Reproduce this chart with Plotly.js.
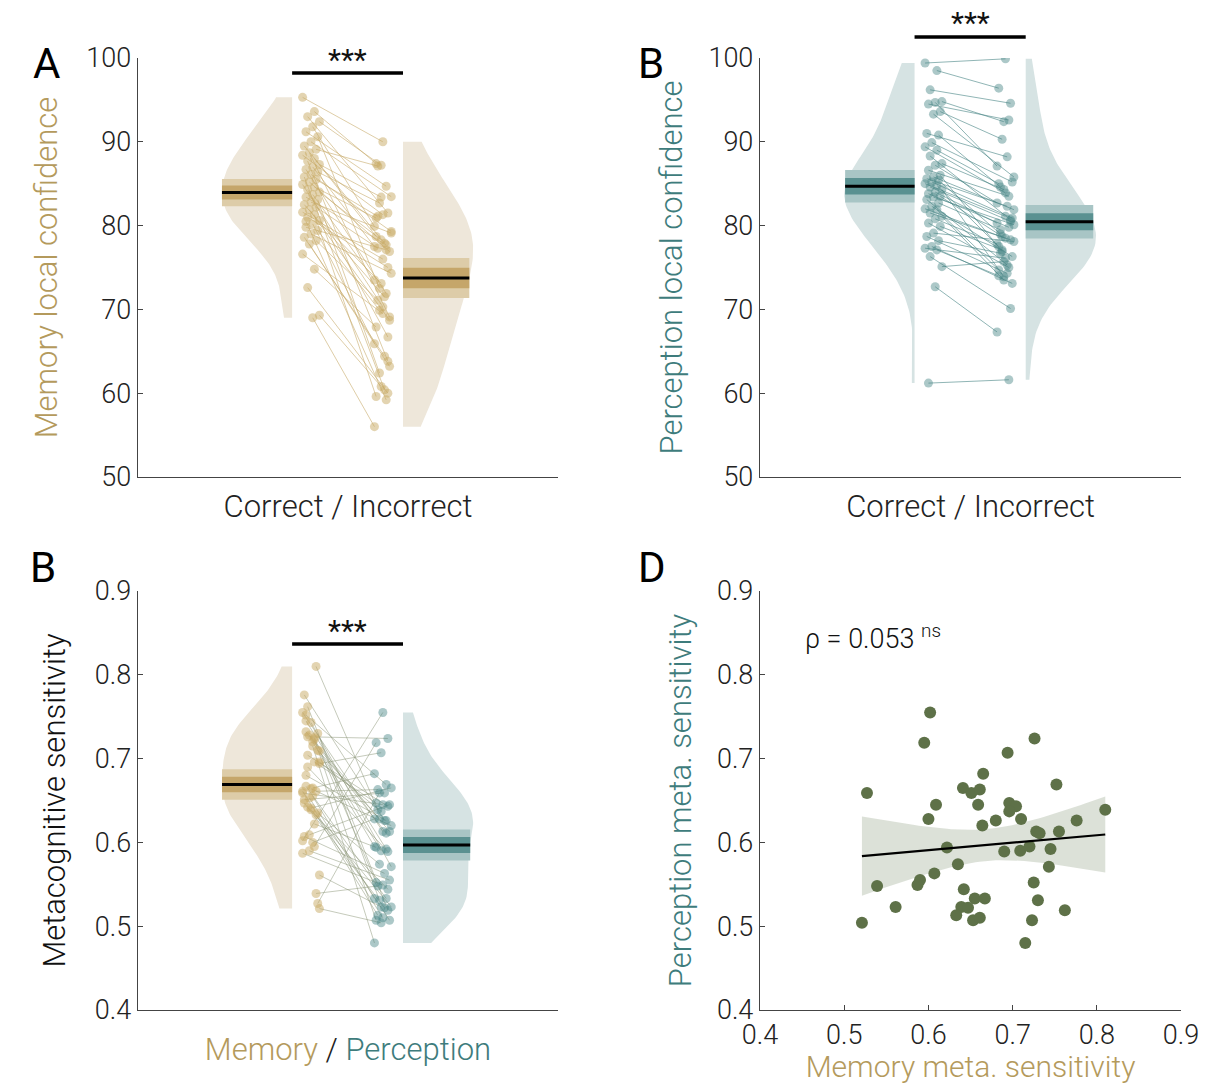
<!DOCTYPE html>
<html><head><meta charset="utf-8">
<script src="https://cdn.plot.ly/plotly-3.0.1.min.js"></script>
<style>html,body{margin:0;padding:0;background:#fff}</style>
</head><body>
<div id="chart" style="width:1207px;height:1084px"></div>
<script>
// ---------------- DATA ----------------
const memCorrect = [95.3,93.6,93.0,92.4,91.8,91.2,90.6,90.0,89.5,89.1,
  88.7,88.4,88.0,87.7,87.3,87.0,86.7,86.4,86.1,85.8,
  85.5,85.2,84.9,84.6,84.3,84.0,83.7,83.4,83.1,82.8,
  82.5,82.2,81.9,81.6,81.3,81.0,80.6,80.2,79.8,79.4,
  79.0,78.6,78.2,77.8,76.6,74.8,72.6,69.3,69.0,80.5];
const memIncorrect = [90.0,87.4,81.5,87.2,79.9,84.7,72.5,83.45,77.9,87.1,
  69.1,81.3,78.7,63.8,83.4,77.5,71.9,82.7,79.3,60.4,
  81.1,76.9,70.3,80.9,66.7,78.3,73.5,77.7,62.4,79.1,
  71.5,77.3,68.7,76.0,59.6,75.0,73.1,65.9,77.1,69.9,
  74.3,64.4,71.1,63.2,69.5,67.9,60.0,60.8,56.0,59.2];
const perCorrect = [99.4,98.5,96.2,94.8,94.7,94.5,93.6,93.3,91.0,90.8,
  89.9,89.4,89.0,88.3,87.4,87.2,86.6,86.0,85.8,85.6,
  85.4,85.2,85.0,84.8,84.6,84.3,84.0,83.8,83.5,83.4,
  83.1,82.7,82.3,82.0,81.9,81.5,81.1,80.8,80.3,79.9,
  79.1,78.7,78.2,77.5,77.3,77.1,76.3,75.1,72.7,61.2];
const perIncorrect = [99.9,96.4,94.6,92.4,87.1,92.6,90.3,85.8,88.2,84.6,
  85.2,83.9,85.0,80.7,84.3,82.7,83.5,76.9,81.9,82.3,
  79.0,80.9,81.1,77.5,80.5,73.9,80.3,79.8,78.7,80.1,
  75.3,79.5,76.3,78.5,74.7,78.3,73.5,77.8,75.0,77.1,
  78.1,74.3,76.7,73.1,76.1,74.0,70.1,75.7,67.3,61.6];
const metaMemory = [0.602,0.595,0.726,0.694,0.665,0.752,0.527,0.641,0.651,0.661,
  0.609,0.659,0.696,0.704,0.696,0.600,0.680,0.710,0.664,0.776,
  0.810,0.728,0.755,0.622,0.690,0.709,0.720,0.745,0.635,0.743,
  0.607,0.539,0.590,0.587,0.725,0.642,0.561,0.655,0.667,0.730,
  0.639,0.647,0.633,0.653,0.661,0.723,0.762,0.521,0.715,0.732];
const metaPerception = [0.755,0.719,0.724,0.707,0.682,0.669,0.659,0.665,0.659,0.663,
  0.645,0.645,0.647,0.643,0.637,0.628,0.626,0.628,0.620,0.626,
  0.639,0.613,0.613,0.594,0.589,0.590,0.595,0.592,0.574,0.571,
  0.563,0.548,0.555,0.549,0.552,0.544,0.523,0.533,0.533,0.531,
  0.523,0.522,0.513,0.507,0.510,0.507,0.519,0.504,0.480,0.611];
const confTicks = [50,60,70,80,90,100];
const metaTicks = [0.4,0.5,0.6,0.7,0.8,0.9];
const panelLetters = ['A','B','B','D'];
const rhoLabel = 'ρ = 0.053 <sup>ns</sup>';
const sigLabel = '***';

// ---------------- STYLE / GEOMETRY ----------------
const FONT = 'Roboto, "Liberation Sans", Arial, sans-serif';
const GOLD_TXT = '#B49A5C', TEAL_TXT = '#3E7C7C';
const GEO = {leftEdge:0.367, rightEdge:0.631, leftPts:0.412, rightPts:0.583, vW:0.167, jit:0.02};
const MEM = {fill:'#EEE7DA', outer:'#DDCCA8', inner:'#C5A66A', pt:'rgba(200,170,100,0.5)', ln:'rgba(200,172,108,0.6)'};
const PER = {fill:'#D6E3E3', outer:'#A8C5C5', inner:'#5A9191', pt:'rgba(70,132,132,0.45)', ln:'rgba(70,132,132,0.6)'};

const mean = a => a.reduce((s,v)=>s+v,0)/a.length;
const sd = a => {const m=mean(a); return Math.sqrt(a.reduce((s,v)=>s+(v-m)*(v-m),0)/(a.length-1));};
function kde(a, y){const h=1.15*sd(a)*Math.pow(a.length,-0.2); return a.reduce((s,v)=>s+Math.exp(-0.5*((y-v)/h)**2),0);}
const jitter = (i,k) => ((((i*7+k*5)%11)/10)-0.5)*2*GEO.jit;

function halfViolin(a, edge, dir, col, xa, ya){
  const lo=Math.min(...a), hi=Math.max(...a), N=120;
  const ys=[], ds=[];
  for(let j=0;j<=N;j++){const y=lo+(hi-lo)*j/N; ys.push(y); ds.push(kde(a,y));}
  const dmax=Math.max(...ds);
  const px=[edge], py=[lo];
  ys.forEach((y,j)=>{px.push(edge+dir*GEO.vW*ds[j]/dmax); py.push(y);});
  px.push(edge); py.push(hi);
  const m=mean(a), se=sd(a)/Math.sqrt(a.length);
  const wm=GEO.vW*kde(a,m)/dmax, e2=edge+dir*wm;
  const rect=(h,c)=>({type:'scatter',mode:'lines',x:[edge,e2,e2,edge,edge],y:[m-h,m-h,m+h,m+h,m-h],
      fill:'toself',fillcolor:c,line:{width:0},xaxis:xa,yaxis:ya,hoverinfo:'skip',showlegend:false});
  return [
    {type:'scatter',mode:'lines',x:px,y:py,fill:'toself',fillcolor:col.fill,line:{width:0},xaxis:xa,yaxis:ya,hoverinfo:'skip',showlegend:false},
    rect(1.96*se,col.outer), rect(se,col.inner),
    {type:'scatter',mode:'lines',x:[edge,e2],y:[m,m],line:{color:'#000',width:3},xaxis:xa,yaxis:ya,showlegend:false}
  ];
}
function paired(a, b, colA, colB, lineCol, xa, ya){
  const lx=[], ly=[];
  a.forEach((v,i)=>{lx.push(GEO.leftPts+jitter(i,0), GEO.rightPts+jitter(i,1), null); ly.push(v,b[i],null);});
  return [
    {type:'scatter',mode:'lines',x:lx,y:ly,line:{color:lineCol,width:1},xaxis:xa,yaxis:ya,showlegend:false,hoverinfo:'skip'},
    {type:'scatter',mode:'markers',x:a.map((v,i)=>GEO.leftPts+jitter(i,0)),y:a,marker:{color:colA,size:9},xaxis:xa,yaxis:ya,showlegend:false},
    {type:'scatter',mode:'markers',x:b.map((v,i)=>GEO.rightPts+jitter(i,1)),y:b,marker:{color:colB,size:9},xaxis:xa,yaxis:ya,showlegend:false}
  ];
}

let traces = [];
// Panel A
traces = traces.concat(halfViolin(memCorrect, GEO.leftEdge, -1, MEM, 'x','y'));
traces = traces.concat(halfViolin(memIncorrect, GEO.rightEdge, 1, MEM, 'x','y'));
traces = traces.concat(paired(memCorrect, memIncorrect, MEM.pt, MEM.pt, MEM.ln, 'x','y'));
// Panel B
traces = traces.concat(halfViolin(perCorrect, GEO.leftEdge, -1, PER, 'x2','y2'));
traces = traces.concat(halfViolin(perIncorrect, GEO.rightEdge, 1, PER, 'x2','y2'));
traces = traces.concat(paired(perCorrect, perIncorrect, PER.pt, PER.pt, PER.ln, 'x2','y2'));
// Panel C
traces = traces.concat(halfViolin(metaMemory, GEO.leftEdge, -1, MEM, 'x3','y3'));
traces = traces.concat(halfViolin(metaPerception, GEO.rightEdge, 1, PER, 'x3','y3'));
traces = traces.concat(paired(metaMemory, metaPerception, MEM.pt, PER.pt, 'rgba(140,150,120,0.5)', 'x3','y3'));
// Panel D regression
(function(){
  const n=metaMemory.length, mx=mean(metaMemory), my=mean(metaPerception);
  let sxx=0, sxy=0; metaMemory.forEach((x,i)=>{sxx+=(x-mx)**2; sxy+=(x-mx)*(metaPerception[i]-my);});
  const b=sxy/sxx, a0=my-b*mx;
  let sse=0; metaMemory.forEach((x,i)=>{sse+=(metaPerception[i]-a0-b*x)**2;});
  const s=Math.sqrt(sse/(n-2)), t=2.011;
  const lo=Math.min(...metaMemory), hi=Math.max(...metaMemory), N=60;
  const xs=[], up=[], dn=[];
  for(let j=0;j<=N;j++){const x=lo+(hi-lo)*j/N; const yh=a0+b*x; const w=t*s*Math.sqrt(1/n+(x-mx)**2/sxx); xs.push(x); up.push(yh+w); dn.push(yh-w);}
  traces.push({type:'scatter',mode:'lines',x:xs.concat(xs.slice().reverse()),y:up.concat(dn.slice().reverse()),fill:'toself',fillcolor:'rgba(205,212,200,0.7)',line:{width:0},xaxis:'x4',yaxis:'y4',showlegend:false,hoverinfo:'skip'});
  traces.push({type:'scatter',mode:'markers',x:metaMemory,y:metaPerception,marker:{color:'#5E7148',size:12},xaxis:'x4',yaxis:'y4',showlegend:false});
  traces.push({type:'scatter',mode:'lines',x:[lo,hi],y:[a0+b*lo,a0+b*hi],line:{color:'#000',width:2.2},xaxis:'x4',yaxis:'y4',showlegend:false});
})();

// ---------------- LAYOUT ----------------
const DL=[0.1143,0.4623], DR=[0.6297,0.9785], DT=[0.5600,0.9465], DB=[0.0683,0.4548];
const tickFont={family:FONT,size:27,color:'#222',weight:300};
const TSZ = 31;
const baseX = (dom, anchor, title, so) => ({domain:dom, anchor:anchor, range:[0,1], showline:true, linecolor:'#444', linewidth:1.3,
  showticklabels:false, ticks:'', showgrid:false, zeroline:false, fixedrange:true,
  title:{text:title, font:{family:FONT,size:TSZ,color:'#222',weight:300}, standoff:so}});
const baseY = (dom, anchor, rng, tv, title, col, so) => ({domain:dom, anchor:anchor, range:rng, tickvals:tv, showline:true, linecolor:'#444', linewidth:1.3,
  ticks:'inside', ticklen:5, tickcolor:'#444', showgrid:false, zeroline:false, tickfont:tickFont, fixedrange:true,
  title:{text:title, font:{family:FONT,size:TSZ,color:col,weight:300}, standoff:so}});

const layout = {
  width:1207, height:1084, margin:{l:0,r:0,t:0,b:0}, paper_bgcolor:'#fff', plot_bgcolor:'rgba(0,0,0,0)',
  font:{family:FONT}, showlegend:false,
  xaxis: baseX(DL,'y','Correct / Incorrect',18),
  yaxis: baseY(DT,'x',[50,100],confTicks,'Memory local confidence',GOLD_TXT,19),
  xaxis2: baseX(DR,'y2','Correct / Incorrect',18),
  yaxis2: baseY(DT,'x2',[50,100],confTicks,'Perception local confidence',TEAL_TXT,16),
  xaxis3: baseX(DL,'y3','<span style="color:'+GOLD_TXT+'">Memory</span> / <span style="color:'+TEAL_TXT+'">Perception</span>',28),
  yaxis3: Object.assign(baseY(DB,'x3',[0.4,0.9],metaTicks,'Metacognitive sensitivity','#111',20),{tickformat:'.1f'}),
  xaxis4: {domain:DR, anchor:'y4', range:[0.4,0.9], tickvals:metaTicks, tickformat:'.1f', showline:true, linecolor:'#444', linewidth:1.3,
    ticks:'inside', ticklen:5, tickcolor:'#444', showgrid:false, zeroline:false, tickfont:tickFont, fixedrange:true,
    title:{text:'Memory meta. sensitivity', font:{family:FONT,size:30,color:GOLD_TXT,weight:300}, standoff:7}},
  yaxis4: Object.assign(baseY(DB,'x4',[0.4,0.9],metaTicks,'Perception meta. sensitivity',TEAL_TXT,16),{tickformat:'.1f'}),
  shapes: [
    {type:'line', xref:'x domain', yref:'y domain', x0:GEO.leftEdge, x1:GEO.rightEdge, y0:0.964, y1:0.964, line:{color:'#000',width:3.5}},
    {type:'line', xref:'x2 domain', yref:'y2 domain', x0:GEO.leftEdge, x1:GEO.rightEdge, y0:1.050, y1:1.050, line:{color:'#000',width:3.5}},
    {type:'line', xref:'x3 domain', yref:'y3 domain', x0:GEO.leftEdge, x1:GEO.rightEdge, y0:0.8735, y1:0.8735, line:{color:'#000',width:3.5}}
  ],
  annotations: [
    {xref:'x domain', yref:'y domain', x:0.5, y:0.997, text:sigLabel, showarrow:false, font:{family:FONT,size:30,color:'#111'}, yanchor:'middle'},
    {xref:'x2 domain', yref:'y2 domain', x:0.5, y:1.084, text:sigLabel, showarrow:false, font:{family:FONT,size:30,color:'#111'}, yanchor:'middle'},
    {xref:'x3 domain', yref:'y3 domain', x:0.5, y:0.905, text:sigLabel, showarrow:false, font:{family:FONT,size:30,color:'#111'}, yanchor:'middle'},
    {xref:'x4', yref:'y4', x:0.451, y:0.845, text:rhoLabel, showarrow:false, xanchor:'left', font:{family:FONT,size:27,color:'#111',weight:300}},
    {xref:'paper', yref:'paper', x:31/1207, y:1-37/1084, text:panelLetters[0], showarrow:false, font:{family:FONT,size:42,color:'#000'}},
    {xref:'paper', yref:'paper', x:651/1207, y:1-37/1084, text:panelLetters[1], showarrow:false, font:{family:FONT,size:42,color:'#000'}},
    {xref:'paper', yref:'paper', x:28/1207, y:1-567/1084, text:panelLetters[2], showarrow:false, font:{family:FONT,size:42,color:'#000'}},
    {xref:'paper', yref:'paper', x:652/1207, y:1-567/1084, text:panelLetters[3], showarrow:false, font:{family:FONT,size:42,color:'#000'}}
  ]
};
Plotly.newPlot('chart', traces, layout, {displayModeBar:false, staticPlot:true});
</script>
</body></html>
